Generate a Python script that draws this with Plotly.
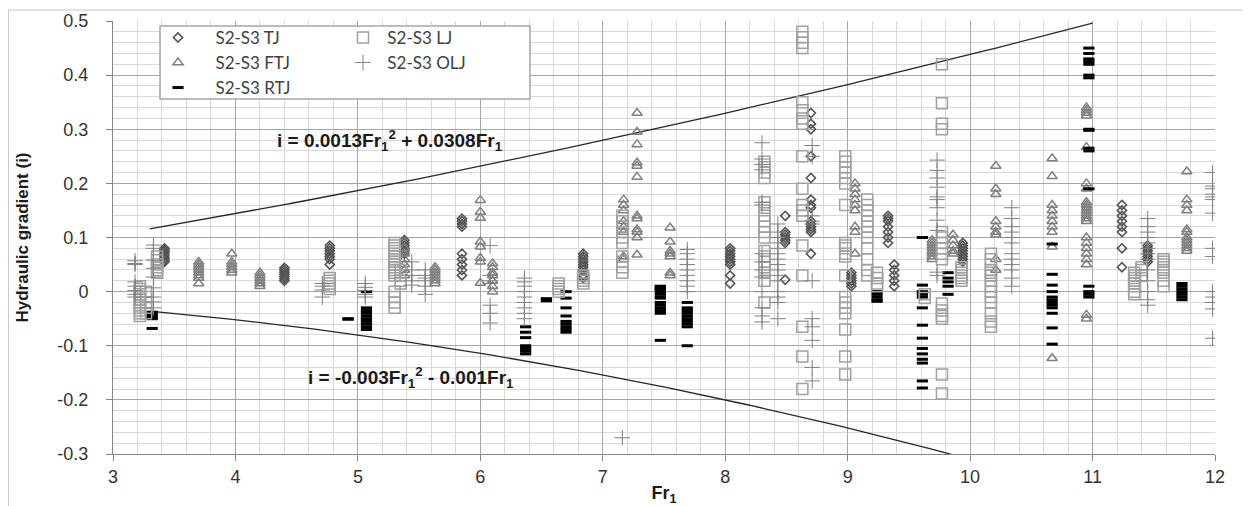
import numpy as np
import plotly.graph_objects as go

# ---------------- data ----------------
# Each series: list of Fr1 column positions and, for each, the hydraulic gradients (i)
TJ_FR = [3.42, 4.40, 4.77, 5.38, 5.85, 6.84, 8.04, 8.49, 8.70, 9.03, 9.33, 9.38, 9.94, 11.24, 11.45]
TJ_I = [
    [0.08, 0.077, 0.074, 0.07, 0.066, 0.062, 0.058, 0.055],
    [0.044, 0.04, 0.036, 0.032, 0.028, 0.024, 0.02],
    [0.085, 0.08, 0.075, 0.07, 0.065, 0.06, 0.05],
    [0.095, 0.09, 0.085, 0.08, 0.075, 0.07],
    [0.135, 0.13, 0.125, 0.12, 0.07, 0.06, 0.05, 0.04, 0.03],
    [0.07, 0.065, 0.06, 0.055, 0.05, 0.045, 0.04, 0.03, 0.025],
    [0.08, 0.075, 0.07, 0.065, 0.06, 0.055, 0.05, 0.03, 0.015],
    [0.14, 0.11, 0.105, 0.1, 0.095, 0.09, 0.022],
    [0.33, 0.31, 0.3, 0.25, 0.21, 0.17, 0.16, 0.155, 0.13, 0.125, 0.12, 0.115, 0.11, 0.07],
    [0.035, 0.03, 0.025, 0.02, 0.015, 0.01],
    [0.14, 0.135, 0.13, 0.12, 0.11, 0.1, 0.09],
    [0.05, 0.04, 0.03, 0.02, 0.01],
    [0.09, 0.085, 0.08, 0.075, 0.07, 0.065, 0.06, 0.055],
    [0.16, 0.15, 0.14, 0.13, 0.12, 0.11, 0.08, 0.045],
    [0.085, 0.08, 0.075, 0.07, 0.065, 0.06, 0.055],
]

FTJ_FR = [3.70, 3.97, 4.20, 5.38, 5.63, 6.00, 6.10, 7.17, 7.28, 7.55, 9.06, 9.69, 9.86,
          10.21, 10.67, 10.95, 11.77]
FTJ_I = [
    [0.055, 0.05, 0.045, 0.04, 0.035, 0.03, 0.025, 0.015],
    [0.07, 0.055, 0.05, 0.045, 0.04, 0.035],
    [0.035, 0.03, 0.025, 0.02, 0.015, 0.01],
    [0.08, 0.07, 0.06, 0.05, 0.04, 0.03],
    [0.045, 0.04, 0.035, 0.03, 0.025, 0.02, 0.015],
    [0.169, 0.147, 0.136, 0.092, 0.083, 0.062, 0.055, 0.016],
    [0.052, 0.045, 0.035, 0.03, 0.02, 0.01, 0.0],
    [0.17, 0.16, 0.15, 0.13, 0.12, 0.11, 0.065, 0.06],
    [0.33, 0.295, 0.272, 0.238, 0.232, 0.212, 0.14, 0.135, 0.115, 0.11, 0.1, 0.068],
    [0.118, 0.092, 0.075, 0.07, 0.065, 0.035, 0.03],
    [0.2, 0.19, 0.18, 0.17, 0.16, 0.15, 0.12, 0.11, 0.07],
    [0.095, 0.09, 0.085, 0.08, 0.075, 0.07, 0.065, 0.06],
    [0.105, 0.095, 0.085, 0.075, 0.07],
    [0.232, 0.19, 0.18, 0.13, 0.12, 0.11, 0.105, 0.06, 0.04],
    [0.246, 0.213, 0.16, 0.15, 0.14, 0.13, 0.12, 0.11, 0.083, -0.123],
    [0.34, 0.335, 0.33, 0.325, 0.267, 0.2, 0.19, 0.165, 0.16, 0.155, 0.15, 0.145, 0.14,
     0.135, 0.13, 0.1, 0.09, 0.08, 0.07, 0.06, 0.05, -0.043, -0.05],
    [0.222, 0.17, 0.16, 0.15, 0.115, 0.11, 0.1, 0.095, 0.09, 0.085, 0.08, 0.075],
]

RTJ_FR = [3.32, 4.92, 5.07, 6.37, 6.54, 6.70, 7.47, 7.69, 9.24, 9.61, 9.82, 10.67, 10.97, 11.73]
RTJ_I = [
    [-0.038, -0.042, -0.045, -0.048, -0.05, -0.068],
    [-0.05, -0.051],
    [0.0, -0.03, -0.035, -0.04, -0.045, -0.05, -0.055, -0.06, -0.065, -0.07],
    [-0.065, -0.075, -0.085, -0.1, -0.105, -0.11, -0.115],
    [-0.013, -0.015, -0.017],
    [0.0, -0.012, -0.03, -0.045, -0.055, -0.06, -0.065, -0.07, -0.075],
    [0.01, 0.008, 0.005, 0.003, 0.0, -0.005, -0.01, -0.012, -0.02, -0.025, -0.03, -0.035,
     -0.04, -0.09],
    [-0.02, -0.03, -0.035, -0.04, -0.045, -0.05, -0.055, -0.06, -0.065, -0.1],
    [0.0, -0.005, -0.01, -0.015, -0.018],
    [0.1, 0.012, 0.0, -0.005, -0.01, -0.03, -0.062, -0.086, -0.105, -0.115, -0.125, -0.132,
     -0.165, -0.178],
    [0.035, 0.025, 0.018, 0.01, -0.005],
    [0.088, 0.032, 0.012, 0.0, -0.01, -0.015, -0.02, -0.025, -0.03, -0.04, -0.067, -0.097],
    [0.45, 0.44, 0.43, 0.425, 0.42, 0.4, 0.395, 0.3, 0.298, 0.265, 0.26, 0.19, 0.01, 0.0,
     -0.005, -0.01],
    [0.015, 0.01, 0.005, 0.0, -0.005, -0.01, -0.015],
]

LJ_FR = [3.22, 3.27, 3.36, 4.77, 5.30, 5.35, 6.64, 6.84, 7.16, 8.32, 8.63, 8.98, 9.16, 9.24,
         9.63, 9.77, 9.93, 10.17, 11.34, 11.40, 11.58]
LJ_I = [
    [0.01, 0.005, 0.0, -0.005, -0.01, -0.015, -0.02, -0.025, -0.03, -0.035, -0.04, -0.045],
    [0.0, -0.01, -0.02, -0.03, -0.04],
    [0.065, 0.058, 0.05, 0.045, 0.04, 0.035],
    [0.025, 0.02, 0.015, 0.01, 0.005],
    [0.09, 0.085, 0.08, 0.075, 0.07, 0.065, 0.06, 0.055, 0.05, 0.045, 0.04, 0.035, 0.03,
     0.0, -0.01, -0.02, -0.03],
    [0.04, 0.03, 0.02, 0.015],
    [0.015, 0.01, 0.005, 0.0],
    [0.03, 0.025, 0.02, 0.015],
    [0.14, 0.13, 0.12, 0.11, 0.1, 0.09, 0.065, 0.055, 0.045, 0.035],
    [0.24, 0.23, 0.22, 0.21, 0.165, 0.155, 0.14, 0.13, 0.12, 0.11, 0.1, 0.075, 0.065, 0.055,
     0.045, 0.035, 0.02, -0.02],
    [0.48, 0.47, 0.46, 0.45, 0.35, 0.335, 0.32, 0.31, 0.25, 0.19, 0.16, 0.15, 0.14, 0.085,
     0.03, -0.065, -0.12, -0.18],
    [0.25, 0.24, 0.23, 0.22, 0.21, 0.2, 0.16, 0.09, 0.085, 0.08, 0.07, 0.065, 0.03, -0.01,
     -0.02, -0.03, -0.04, -0.07, -0.12, -0.153],
    [0.17, 0.16, 0.15, 0.14, 0.13, 0.12, 0.11, 0.1, 0.08, 0.06, 0.04, 0.03],
    [0.035, 0.025, 0.015, 0.01],
    [-0.005, -0.012],
    [0.42, 0.348, 0.31, 0.3, 0.11, 0.1, 0.09, 0.08, 0.07, 0.06, -0.022, -0.035, -0.045,
     -0.05, -0.153, -0.188],
    [0.045, 0.04, 0.035, 0.03, 0.025, 0.02],
    [0.07, 0.06, 0.05, 0.04, 0.035, 0.03, 0.02, 0.01, 0.0, -0.01, -0.02, -0.04, -0.055, -0.065],
    [0.035, 0.03, 0.025, 0.02, 0.015, 0.01, 0.0, -0.005],
    [0.045, 0.04, 0.03],
    [0.06, 0.055, 0.05, 0.045, 0.04, 0.035, 0.02, 0.01],
]

OLJ_FR = [3.18, 3.33, 4.71, 5.06, 5.44, 5.55, 6.08, 6.36, 7.16, 7.69, 8.30, 8.43, 8.71, 9.73,
          10.34, 11.45, 11.98]
OLJ_I = [
    [0.057, 0.052, 0.05, 0.018, 0.01, 0.002, -0.005, -0.01],
    [0.086, 0.08, 0.058, 0.043, 0.027, 0.007, -0.01, -0.019, -0.03],
    [0.015, 0.01, 0.003, -0.01],
    [0.015, 0.008, 0.002, -0.005, -0.01],
    [0.055, 0.04, 0.03, 0.02, 0.012],
    [0.04, 0.03, 0.025, 0.02, 0.01, -0.005],
    [0.085, 0.03, 0.02, 0.015, -0.025, -0.04, -0.058],
    [0.025, 0.018, 0.01, 0.0, -0.01, -0.02, -0.03, -0.04, -0.05],
    [-0.27],
    [0.078, 0.07, 0.06, 0.05, 0.04, 0.03, 0.02, 0.01, 0.0],
    [0.275, 0.245, 0.235, 0.225, 0.165, 0.16, 0.07, 0.055, 0.04, 0.027, 0.0, -0.03, -0.045,
     -0.056],
    [0.125, 0.11, 0.1, 0.09, 0.08, 0.07, 0.06, 0.05, 0.04, 0.03, 0.02, 0.0, -0.01, -0.02,
     -0.05],
    [0.27, 0.25, 0.14, 0.13, 0.125, 0.02, -0.05, -0.065, -0.09, -0.14, -0.165],
    [0.243, 0.224, 0.21, 0.193, 0.175, 0.17, 0.155, 0.132, 0.113, 0.036, 0.03],
    [0.155, 0.135, 0.12, 0.11, 0.1, 0.09, 0.07, 0.06, 0.05, 0.04, 0.025, 0.01],
    [0.135, 0.12, 0.11, 0.1, 0.09, 0.08, 0.07, 0.06, 0.04, 0.02, 0.0, -0.015, -0.025],
    [0.22, 0.195, 0.19, 0.18, 0.175, 0.17, 0.145, 0.08, 0.065, 0.0, -0.01, -0.02, -0.032,
     -0.086],
]

SERIES_NAMES = ["S2-S3 TJ", "S2-S3 FTJ", "S2-S3 RTJ", "S2-S3 LJ", "S2-S3 OLJ"]

# Trendline equations shown on the chart: i = a*Fr1^2 + b*Fr1
UPPER_COEF = [0.0013, 0.0308]
UPPER_FR_RANGE = [3.3, 11.0]
LOWER_COEF = [-0.003, -0.001]
LOWER_FR_RANGE = [3.3, 10.0]

X_TICKS = [3, 4, 5, 6, 7, 8, 9, 10, 11, 12]
Y_TICKS = [-0.3, -0.2, -0.1, 0, 0.1, 0.2, 0.3, 0.4, 0.5]
Y_LABELS = ["-0.3", "-0.2", "-0.1", "0", "0.1", "0.2", "0.3", "0.4", "0.5"]


def flatten(frs, groups):
    xs, ys = [], []
    for f, g in zip(frs, groups):
        for v in g:
            xs.append(f)
            ys.append(v)
    return xs, ys


FONT = "Liberation Sans, Arial, sans-serif"
LEG_FONT = dict(family="Lato, Liberation Sans, sans-serif", size=17, color="#404040")
NB = "\u00a0"

fig = go.Figure()

# trendlines
for coef, rng in [(UPPER_COEF, UPPER_FR_RANGE), (LOWER_COEF, LOWER_FR_RANGE)]:
    fr = np.linspace(rng[0], rng[1], 200)
    fig.add_trace(go.Scatter(x=fr, y=coef[0] * fr ** 2 + coef[1] * fr, mode="lines",
                             line=dict(color="#262626", width=1.3), showlegend=False,
                             hoverinfo="skip"))

styles = {
    "S2-S3 TJ": dict(symbol="diamond-open", size=7, color="#555555",
                     line=dict(width=1.6, color="#555555")),
    "S2-S3 FTJ": dict(symbol="triangle-up-open", size=9, color="#7f7f7f",
                      line=dict(width=1.5, color="#7f7f7f")),
    "S2-S3 RTJ": dict(symbol="line-ew", size=8, color="#000000",
                      line=dict(width=3, color="#000000")),
    "S2-S3 LJ": dict(symbol="square-open", size=11, color="#a0a0a0",
                     line=dict(width=1.5, color="#a0a0a0")),
    "S2-S3 OLJ": dict(symbol="cross-thin", size=11, color="#808080",
                      line=dict(width=1, color="#808080")),
}

series_data = {
    "S2-S3 TJ": (TJ_FR, TJ_I),
    "S2-S3 FTJ": (FTJ_FR, FTJ_I),
    "S2-S3 RTJ": (RTJ_FR, RTJ_I),
    "S2-S3 LJ": (LJ_FR, LJ_I),
    "S2-S3 OLJ": (OLJ_FR, OLJ_I),
}

# The page has an 8px body margin: the figure is drawn at (8, 8) in the window.
OFF = 8
W, H = 1251 - OFF, 506 - OFF
# plot area in window pixels
PL, PR, PT, PB = 113, 1215, 21, 454
L, R, T, B = PL - OFF, W - (PR - OFF), PT - OFF, H - (PB - OFF)
PW, PH = PR - PL, PB - PT


def px2paper_x(px):
    return (px - PL) / PW


def px2paper_y(py):
    return (PB - py) / PH


legend_pos = {
    "S2-S3 TJ": ("legend", 158, 38, 4),
    "S2-S3 FTJ": ("legend2", 158, 63, 4),
    "S2-S3 RTJ": ("legend3", 158, 88, 4),
    "S2-S3 LJ": ("legend4", 343, 38, 1),
    "S2-S3 OLJ": ("legend5", 343, 63, 1),
}

for name in SERIES_NAMES:
    frs, groups = series_data[name]
    xs, ys = flatten(frs, groups)
    lg, lx, ly, nsp = legend_pos[name]
    fig.add_trace(go.Scatter(x=xs, y=ys, mode="markers", name=NB * nsp + name,
                             marker=styles[name], legend=lg))

legend_layout = {}
for name in SERIES_NAMES:
    lg, lx, ly, nsp = legend_pos[name]
    legend_layout[lg] = dict(x=px2paper_x(lx), y=px2paper_y(ly), xanchor="left",
                             yanchor="middle", bgcolor="rgba(0,0,0,0)", borderwidth=0,
                             font=LEG_FONT)

fig.update_layout(**legend_layout)

# legend frame
fig.add_shape(type="rect", xref="paper", yref="paper",
              x0=px2paper_x(160), x1=px2paper_x(530), y0=px2paper_y(99), y1=px2paper_y(26),
              fillcolor="white", line=dict(color="#a6a6a6", width=1.5), layer="above")

# chart outer border
fig.add_shape(type="rect", xref="paper", yref="paper",
              x0=px2paper_x(8.5), x1=px2paper_x(1245), y0=px2paper_y(530),
              y1=px2paper_y(10), line=dict(color="#c8c8c8", width=1), layer="below")

# trendline equations
fig.add_annotation(x=4.32, y=0.28, xref="x", yref="y", xanchor="left", yanchor="middle",
                   text="<b>i = 0.0013Fr<sub>1</sub><sup>2</sup> + 0.0308Fr<sub>1</sub></b>",
                   showarrow=False, font=dict(family=FONT, size=19, color="#1a1a1a"))
fig.add_annotation(x=4.58, y=-0.158, xref="x", yref="y", xanchor="left", yanchor="middle",
                   text="<b>i = -0.003Fr<sub>1</sub><sup>2</sup> - 0.001Fr<sub>1</sub></b>",
                   showarrow=False, font=dict(family=FONT, size=19, color="#1a1a1a"))

fig.update_xaxes(range=[3, 12], tickmode="array", tickvals=X_TICKS,
                 ticktext=[str(v) for v in X_TICKS], automargin=False,
                 ticks="outside", ticklen=6, tickcolor="#868686",
                 showline=True, linecolor="#868686", linewidth=1,
                 showgrid=True, gridcolor="#a6a6a6", gridwidth=1, zeroline=False,
                 minor=dict(dtick=0.2, tick0=3, showgrid=True, gridcolor="#d9d9d9",
                            gridwidth=1),
                 tickfont=dict(family=FONT, size=18, color="#333333"),
                 title=dict(text="<b>Fr<sub>1</sub></b>", standoff=3,
                            font=dict(family=FONT, size=18, color="#1a1a1a")))
fig.update_yaxes(range=[-0.3, 0.5], tickmode="array", tickvals=Y_TICKS, ticktext=Y_LABELS,
                 automargin=False,
                 ticks="outside", ticklen=6, tickcolor="#868686", ticklabelstandoff=14,
                 showline=True, linecolor="#868686", linewidth=1,
                 showgrid=True, gridcolor="#a6a6a6", gridwidth=1, zeroline=False,
                 minor=dict(dtick=0.02, tick0=0, showgrid=True, gridcolor="#d9d9d9",
                            gridwidth=1),
                 tickfont=dict(family=FONT, size=18, color="#333333"),
                 title=dict(text="<b>Hydraulic gradient (i)</b>", standoff=24,
                            font=dict(family=FONT, size=17, color="#1a1a1a")))

fig.update_layout(width=W, height=H, margin=dict(l=L, r=R, t=T, b=B, autoexpand=False),
                  paper_bgcolor="white", plot_bgcolor="white", hovermode=False)

fig.write_html("out.html")
